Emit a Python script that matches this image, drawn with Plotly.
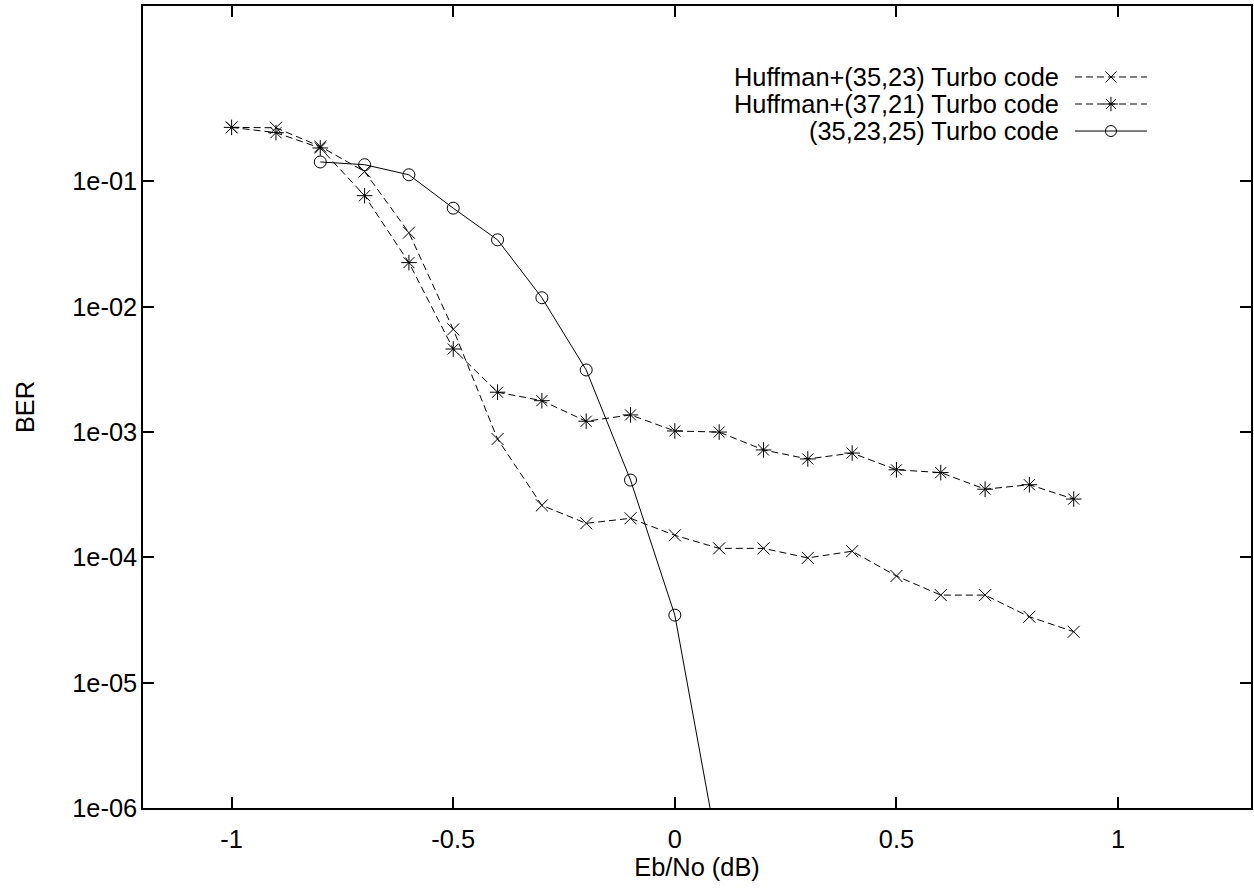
import plotly.graph_objects as go

# ---- data ----
ebno = [-1.0, -0.9, -0.8, -0.7, -0.6, -0.5, -0.4, -0.3, -0.2, -0.1,
        0.0, 0.1, 0.2, 0.3, 0.4, 0.5, 0.6, 0.7, 0.8, 0.9]
huff_35_23 = [0.27, 0.268, 0.19, 0.12, 0.039, 0.0066, 8.8e-4, 2.6e-4, 1.87e-4, 2.05e-4,
              1.5e-4, 1.18e-4, 1.18e-4, 9.9e-5, 1.12e-4, 7.1e-5, 5.0e-5, 5.0e-5, 3.36e-5, 2.55e-5]
huff_37_21 = [0.27, 0.245, 0.185, 0.077, 0.0225, 0.0046, 2.08e-3, 1.78e-3, 1.22e-3, 1.37e-3,
              1.02e-3, 1.0e-3, 7.2e-4, 6.1e-4, 6.8e-4, 5.0e-4, 4.75e-4, 3.5e-4, 3.8e-4, 2.92e-4]
ebno_turbo = [-0.8, -0.7, -0.6, -0.5, -0.4, -0.3, -0.2, -0.1, 0.0, 0.1]
turbo_35_23_25 = [0.143, 0.136, 0.113, 0.0612, 0.0342, 0.0118, 3.13e-3, 4.14e-4, 3.46e-5, 4e-7]

names = ["Huffman+(35,23) Turbo code", "Huffman+(37,21) Turbo code", "(35,23,25) Turbo code"]
x_ticks = [-1, -0.5, 0, 0.5, 1]
x_ticktext = ["-1", "-0.5", "0", "0.5", "1"]
y_ticks = [1e-6, 1e-5, 1e-4, 1e-3, 1e-2, 1e-1]
y_ticktext = ["1e-06", "1e-05", "1e-04", "1e-03", "1e-02", "1e-01"]

FONT = "Liberation Sans, Arial, Helvetica, sans-serif"
FS = 25.4
DASH = "7px,4px"

styles = [
    dict(dash=DASH, symbol="x-thin-open", size=12),
    dict(dash=DASH, symbol="asterisk-open", size=13),
    dict(dash="solid", symbol="circle-open", size=12),
]
series = [(ebno, huff_35_23), (ebno, huff_37_21), (ebno_turbo, turbo_35_23_25)]

fig = go.Figure()
for (xs, ys), st, nm in zip(series, styles, names):
    fig.add_trace(go.Scatter(
        x=xs, y=ys, mode="lines+markers", name=nm, showlegend=False,
        line=dict(color="black", width=1, dash=st["dash"]),
        marker=dict(symbol=st["symbol"], size=st["size"], color="black",
                    line=dict(color="black", width=1)),
        cliponaxis=True,
    ))

# manual gnuplot-style key (text right-aligned, sample to the right)
key_y = [0.9115, 0.8778, 0.8441]
key_x0, key_xm, key_x1 = 0.8412, 0.8736, 0.9061
for nm, st, ky in zip(names, styles, key_y):
    fig.add_trace(go.Scatter(
        x=[key_x0, key_x1], y=[ky, ky], mode="lines", xaxis="x2", yaxis="y2",
        showlegend=False, hoverinfo="skip",
        line=dict(color="black", width=1, dash=st["dash"]),
    ))
    fig.add_trace(go.Scatter(
        x=[key_xm], y=[ky], mode="markers", xaxis="x2", yaxis="y2",
        showlegend=False, hoverinfo="skip",
        marker=dict(symbol=st["symbol"], size=st["size"] - 1, color="black",
                    line=dict(color="black", width=1)),
    ))
    fig.add_annotation(x=0.8285, y=ky, xref="paper", yref="paper", text=nm,
                       showarrow=False, xanchor="right", yanchor="middle",
                       font=dict(family=FONT, size=FS, color="black"))

axis_common = dict(
    showgrid=False, zeroline=False, showline=True, linecolor="black", linewidth=1.5,
    mirror="allticks", ticks="inside", ticklen=11, tickwidth=1.5, tickcolor="black",
    tickfont=dict(family=FONT, size=FS, color="black"), automargin=False,
)

fig.update_layout(
    width=1254, height=888,
    margin=dict(l=143, r=3, t=6, b=80, autoexpand=False),
    paper_bgcolor="white", plot_bgcolor="white",
    font=dict(family=FONT, size=FS, color="black"),
    xaxis=dict(range=[-1.2, 1.3], tickvals=x_ticks, ticktext=x_ticktext,
               ticklabelstandoff=8,
               title=dict(text="Eb/No (dB)", standoff=0, font=dict(family=FONT, size=FS)),
               **axis_common),
    yaxis=dict(type="log", range=[-6, 0.4], tickvals=y_ticks, ticktext=y_ticktext,
               ticklabelstandoff=-1,
               title=dict(text="BER", standoff=30, font=dict(family=FONT, size=FS)),
               **axis_common),
    xaxis2=dict(overlaying="x", range=[0, 1], visible=False),
    yaxis2=dict(overlaying="y", range=[0, 1], visible=False),
    showlegend=False,
)

fig.write_html(
    "out.html",
    config={"responsive": False, "displayModeBar": False},
    post_script="document.body.style.margin='0';document.body.style.padding='0';"
                "document.body.style.overflow='hidden';",
)
